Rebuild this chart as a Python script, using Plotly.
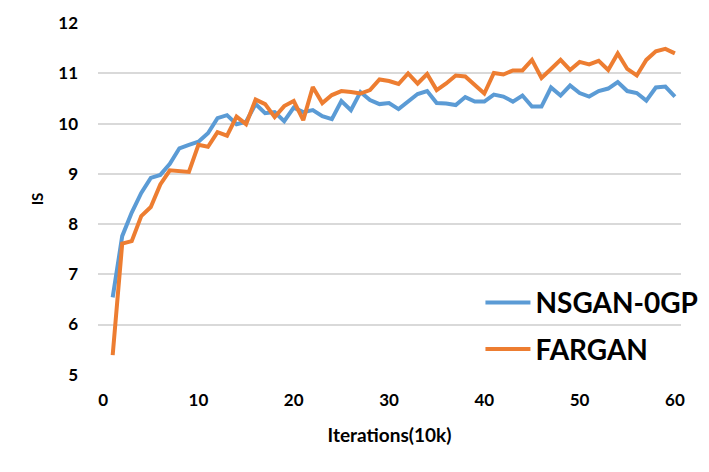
import plotly.graph_objects as go

iterations = list(range(1, 61))

nsgan_0gp = [6.54, 7.76, 8.23, 8.62, 8.92, 8.98, 9.20, 9.51, 9.58, 9.64,
             9.81, 10.11, 10.17, 9.99, 10.04, 10.39, 10.21, 10.23, 10.05, 10.32,
             10.23, 10.27, 10.15, 10.09, 10.45, 10.27, 10.63, 10.47, 10.39, 10.41,
             10.29, 10.43, 10.59, 10.65, 10.41, 10.40, 10.37, 10.53, 10.44, 10.44,
             10.58, 10.54, 10.44, 10.56, 10.34, 10.34, 10.72, 10.56, 10.76, 10.61,
             10.54, 10.65, 10.70, 10.83, 10.65, 10.61, 10.46, 10.72, 10.74, 10.54]

fargan = [5.39, 7.61, 7.66, 8.16, 8.34, 8.79, 9.07, 9.06, 9.04, 9.58,
          9.54, 9.83, 9.76, 10.14, 9.99, 10.48, 10.39, 10.13, 10.35, 10.45,
          10.07, 10.73, 10.41, 10.57, 10.65, 10.63, 10.60, 10.67, 10.88, 10.85,
          10.79, 11.00, 10.80, 10.99, 10.67, 10.80, 10.96, 10.94, 10.78, 10.60,
          11.01, 10.98, 11.06, 11.06, 11.27, 10.91, 11.09, 11.27, 11.07, 11.23,
          11.18, 11.25, 11.07, 11.40, 11.09, 10.96, 11.27, 11.44, 11.49, 11.40]

x_ticks = [0, 10, 20, 30, 40, 50, 60]
y_ticks = [5, 6, 7, 8, 9, 10, 11, 12]

FONT = "Lato"

fig = go.Figure()
fig.add_trace(go.Scatter(x=iterations, y=nsgan_0gp, mode="lines", name="NSGAN-0GP",
                         legendgroup="a",
                         line=dict(color="#5B9BD5", width=4, shape="linear")))
fig.add_trace(go.Scatter(x=iterations, y=fargan, mode="lines", name="FARGAN",
                         legendgroup="b",
                         line=dict(color="#ED7D31", width=4, shape="linear")))

# The page body adds an 8px offset, so the figure is 8px smaller than the window
fig.update_layout(
    width=701, height=464,
    margin=dict(l=89.7, r=28.3, t=14.5, b=96.7, autoexpand=False),
    paper_bgcolor="white", plot_bgcolor="white",
    font=dict(family=FONT, color="#000000"),
    showlegend=True,
    legend=dict(x=0.656, y=0.276, xanchor="left", yanchor="top",
                bgcolor="rgba(0,0,0,0)", itemwidth=45, tracegroupgap=7,
                font=dict(family=FONT, size=28, color="#000000", weight="bold")),
    xaxis=dict(range=[-0.54, 60.64], tickvals=x_ticks, ticktext=[str(v) for v in x_ticks],
               showgrid=False, zeroline=False, showline=False, ticks="",
               ticklabelstandoff=13,
               tickfont=dict(family=FONT, size=17, weight="bold", color="#000000"),
               title=dict(text="Iterations(10k)", standoff=19,
                          font=dict(family=FONT, size=19, weight="bold", color="#000000"))),
    yaxis=dict(range=[4.995, 12.005], tickvals=y_ticks, ticktext=[str(v) for v in y_ticks],
               showgrid=True, gridcolor="#D9D9D9", gridwidth=1.5, zeroline=False,
               showline=False, ticks="", ticklabelstandoff=19,
               tickfont=dict(family=FONT, size=17, weight="bold", color="#000000"),
               title=dict(text="IS", standoff=11,
                          font=dict(family=FONT, size=15, weight="bold", color="#000000"))),
)

fig.write_html("out.html")
